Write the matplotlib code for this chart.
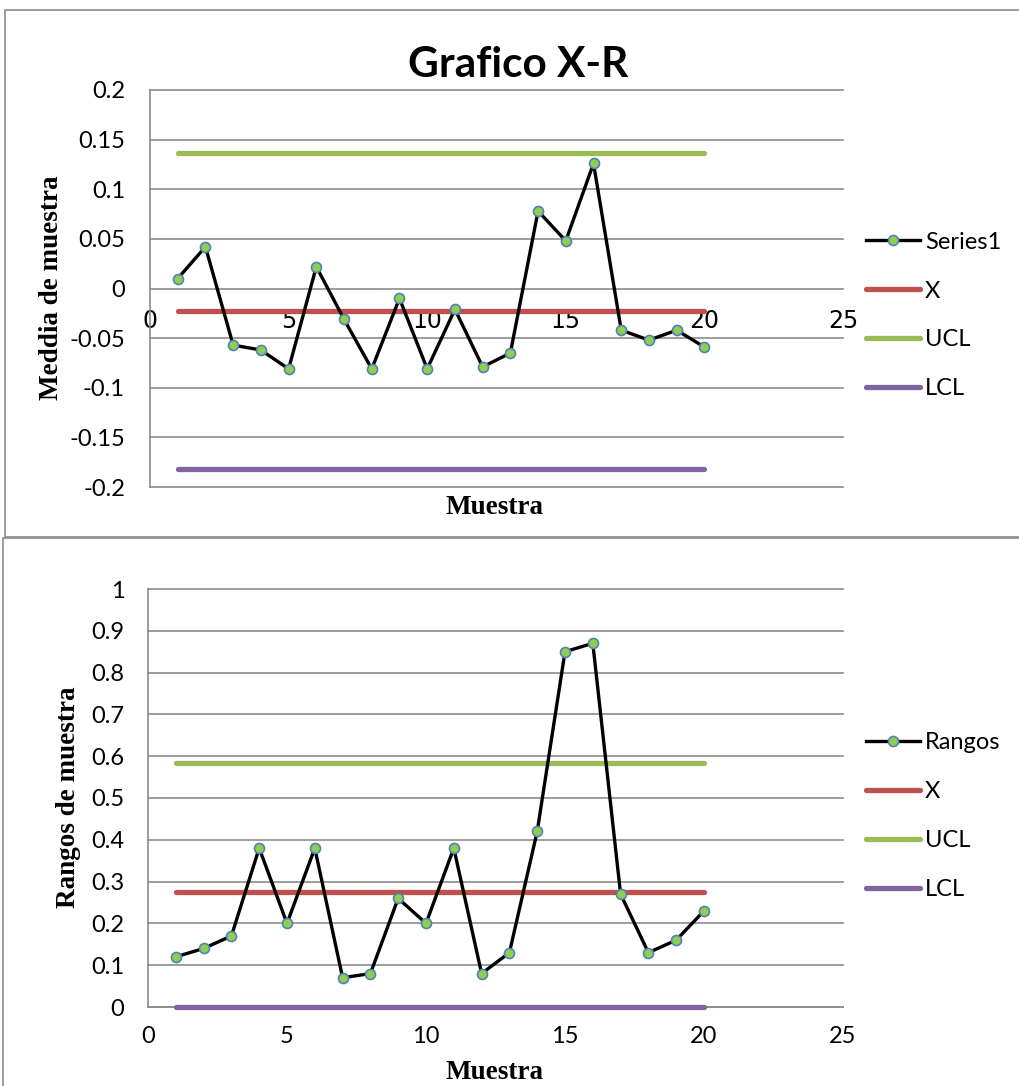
import matplotlib
matplotlib.use("Agg")
import matplotlib.pyplot as plt
from matplotlib.patches import Rectangle

# ---- data ----
muestra = list(range(1, 21))
medias = [0.010, 0.042, -0.057, -0.062, -0.081, 0.022, -0.031, -0.081, -0.010, -0.081,
          -0.021, -0.079, -0.065, 0.078, 0.048, 0.126, -0.042, -0.052, -0.042, -0.059]
x_center = -0.0225
x_ucl = 0.137
x_lcl = -0.182

rangos = [0.12, 0.14, 0.17, 0.38, 0.20, 0.38, 0.07, 0.08, 0.26, 0.20,
          0.38, 0.08, 0.13, 0.42, 0.85, 0.87, 0.27, 0.13, 0.16, 0.23]
r_center = 0.276
r_ucl = 0.584
r_lcl = 0.0

top_yticks = [-0.2, -0.15, -0.1, -0.05, 0, 0.05, 0.1, 0.15, 0.2]
top_yticklabels = ["-0.2", "-0.15", "-0.1", "-0.05", "0", "0.05", "0.1", "0.15", "0.2"]
bot_yticks = [0, 0.1, 0.2, 0.3, 0.4, 0.5, 0.6, 0.7, 0.8, 0.9, 1.0]
bot_yticklabels = ["0", "0.1", "0.2", "0.3", "0.4", "0.5", "0.6", "0.7", "0.8", "0.9", "1"]
xticks = [0, 5, 10, 15, 20, 25]

SANS = "Lato"
SERIF = "Liberation Serif"
GRID = "#8c8c8c"
C_SERIES = "black"
C_MFACE = "#92CD50"
C_MEDGE = "#4F81BD"
C_X = "#C0504D"
C_UCL = "#9BBB59"
C_LCL = "#8064A2"
TICK_FS = 17
LEG_FS = 17
LAB_FS = 19.5

W, H = 1019, 1086
fig = plt.figure(figsize=(W / 100, H / 100), dpi=100)

# chart area borders
fig.patches.append(Rectangle((5 / W, 1 - 537 / H), 1.05, (537 - 10) / H,
                             transform=fig.transFigure, fill=False,
                             edgecolor="#8c8c8c", lw=1.2))
fig.patches.append(Rectangle((3 / W, -0.05), 1.05, 1 - 538 / H + 0.05,
                             transform=fig.transFigure, fill=False,
                             edgecolor="#8c8c8c", lw=1.2))


def style_axes(ax):
    for s in ["top", "right"]:
        ax.spines[s].set_visible(False)
    ax.spines["left"].set_color(GRID)
    ax.spines["left"].set_linewidth(1.2)
    ax.grid(axis="y", color=GRID, lw=1.2)
    ax.set_axisbelow(True)
    ax.tick_params(length=0, labelsize=TICK_FS)
    for lab in ax.get_xticklabels() + ax.get_yticklabels():
        lab.set_family(SANS)
    for gl in ax.get_ygridlines():
        gl.set_clip_on(False)


def draw(ax, y, c, u, l, name):
    ax.plot(muestra, y, color=C_SERIES, lw=2.4, marker="o", ms=7.2,
            mfc=C_MFACE, mec=C_MEDGE, mew=1.2, label=name, zorder=5,
            clip_on=False)
    ax.plot(muestra, [c] * len(muestra), color=C_X, lw=3.8,
            solid_capstyle="round", label="X", zorder=3, clip_on=False)
    ax.plot(muestra, [u] * len(muestra), color=C_UCL, lw=3.8,
            solid_capstyle="round", label="UCL", zorder=3, clip_on=False)
    ax.plot(muestra, [l] * len(muestra), color=C_LCL, lw=3.8,
            solid_capstyle="round", label="LCL", zorder=3, clip_on=False)


def add_legend(ax, yc):
    ax.legend(loc="center left", bbox_to_anchor=(866 / W, 1 - yc / H),
              bbox_transform=fig.transFigure, frameon=False,
              prop={"family": SANS, "size": LEG_FS}, handlelength=2.3,
              handletextpad=0.2, labelspacing=1.18, borderaxespad=0,
              borderpad=0)


# ---- top chart ----
ax1 = fig.add_axes([150 / W, 1 - 487 / H, 693 / W, 397 / H])
draw(ax1, medias, x_center, x_ucl, x_lcl, "Series1")
ax1.set_xlim(0, 25)
ax1.set_ylim(-0.2, 0.2)
ax1.set_xticks(xticks)
ax1.set_yticks(top_yticks)
ax1.set_yticklabels(top_yticklabels)
style_axes(ax1)
ax1.spines["bottom"].set_position(("data", 0))
ax1.spines["bottom"].set_color("none")
ax1.tick_params(axis="x", pad=15)
ax1.tick_params(axis="y", pad=18)
ax1.set_ylabel("Meddia de muestra", family=SERIF, fontweight="bold",
               fontsize=LAB_FS)
ax1.yaxis.set_label_coords(64 / W, 1 - 287.5 / H, transform=fig.transFigure)
fig.text(495 / W, 1 - 514 / H, "Muestra", ha="center", va="baseline",
         family=SERIF, fontweight="bold", fontsize=LAB_FS)
add_legend(ax1, 315.5)
fig.text(518 / W, 1 - 77 / H, "Grafico X-R", ha="center", va="baseline",
         family=SANS, fontweight="bold", fontsize=30.5)

# ---- bottom chart ----
ax2 = fig.add_axes([148 / W, 1 - 1007 / H, 695 / W, 418 / H])
draw(ax2, rangos, r_center, r_ucl, r_lcl, "Rangos")
ax2.set_xlim(0, 25)
ax2.set_ylim(0, 1)
ax2.set_xticks(xticks)
ax2.set_yticks(bot_yticks)
ax2.set_yticklabels(bot_yticklabels)
style_axes(ax2)
ax2.spines["bottom"].set_color(GRID)
ax2.spines["bottom"].set_linewidth(1.2)
ax2.tick_params(axis="x", pad=14)
ax2.tick_params(axis="y", pad=17)
ax2.set_ylabel("Rangos de muestra", family=SERIF, fontweight="bold",
               fontsize=LAB_FS)
ax2.yaxis.set_label_coords(81 / W, 1 - 797 / H, transform=fig.transFigure)
fig.text(495 / W, 1 - 1085 / H, "Muestra", ha="center", va="bottom",
         family=SERIF, fontweight="bold", fontsize=LAB_FS)
add_legend(ax2, 816)

fig.savefig("out.png", dpi=100)
